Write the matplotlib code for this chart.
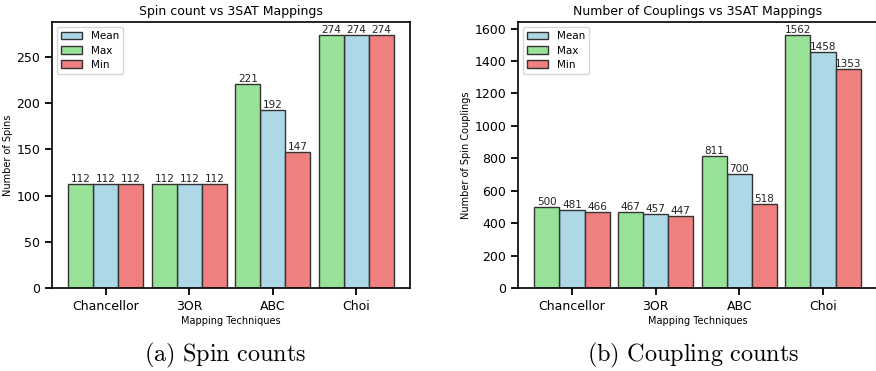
import numpy as np
import matplotlib
matplotlib.use("Agg")
import matplotlib.pyplot as plt

# data
techniques = ['Chancellor', '3OR', 'ABC', 'Choi']
spin_max = [112, 112, 221, 274]
spin_mean = [112, 112, 192, 274]
spin_min = [112, 112, 147, 274]
coup_max = [500, 467, 811, 1562]
coup_mean = [481, 457, 700, 1458]
coup_min = [466, 447, 518, 1353]

plt.rcParams['mathtext.fontset'] = 'cm'

fig = plt.figure(figsize=(8.76, 3.71), dpi=100)
ax1 = fig.add_axes([0.0594, 0.2237, 0.4087, 0.717])
ax2 = fig.add_axes([0.5913, 0.2237, 0.4098, 0.717])


def draw_panel(ax, vmax, vmean, vmin, title, ylabel, ylab_x):
    x = np.arange(len(techniques))
    w = 0.3
    bars_mean = ax.bar(x, vmean, w, color='lightblue', edgecolor='#333333',
                       linewidth=1, label='Mean')
    bars_max = ax.bar(x - w, vmax, w, color='#98e298', edgecolor='#333333',
                      linewidth=1, label='Max')
    bars_min = ax.bar(x + w, vmin, w, color='lightcoral', edgecolor='#333333',
                      linewidth=1, label='Min')
    for b in (bars_max, bars_mean, bars_min):
        ax.bar_label(b, fontsize=7.5, padding=0, color='#222222')
    ax.set_xticks(x)
    ax.set_xticklabels(techniques)
    ax.set_title(title, fontsize=9, pad=5)
    ax.set_ylabel(ylabel, fontsize=7)
    ax.yaxis.set_label_coords(ylab_x, 0.5)
    ax.set_xlabel('Mapping Techniques', fontsize=7, labelpad=2)
    ax.tick_params(axis='both', labelsize=9, length=5, width=1.3, direction='out')
    for s in ax.spines.values():
        s.set_linewidth(1.2)
    ax.legend(loc='upper left', fontsize=7.5, handlelength=2.0,
              borderpad=0.4, labelspacing=0.4, framealpha=0.8)


draw_panel(ax1, spin_max, spin_mean, spin_min,
           'Spin count vs 3SAT Mappings', 'Number of Spins', -0.11)
draw_panel(ax2, coup_max, coup_mean, coup_min,
           'Number of Couplings vs 3SAT Mappings', 'Number of Spin Couplings', -0.13)

fig.text(0.257, 0.025, r'$\mathrm{(a)\ Spin\ counts}$', fontsize=17.5, ha='center')
fig.text(0.791, 0.025, r'$\mathrm{(b)\ Coupling\ counts}$', fontsize=17.5, ha='center')

fig.savefig('out.png', dpi=100)
